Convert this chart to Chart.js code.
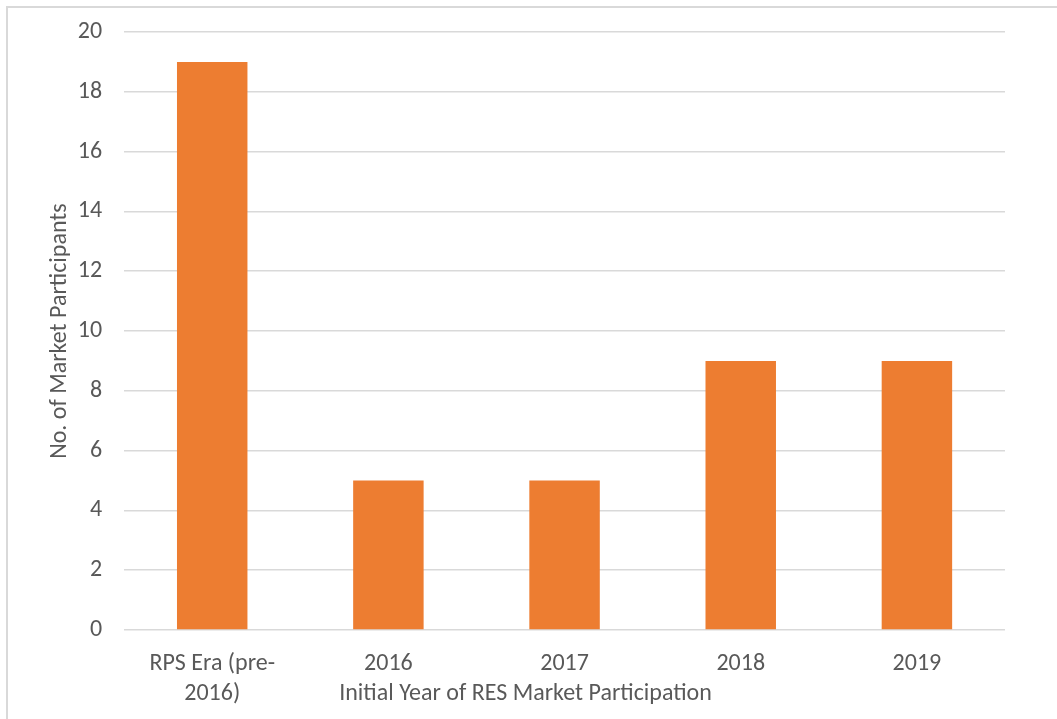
<!DOCTYPE html>
<html>
<head>
<meta charset="utf-8">
<script src="https://cdn.jsdelivr.net/npm/chart.js@4"></script>
<style>
  html, body { margin: 0; padding: 0; background: #fff; }
  #wrap { position: relative; width: 1057px; height: 719px; }
</style>
</head>
<body>
<div id="wrap"><canvas id="myChart"></canvas></div>
<script>
  const categories = [
    ['RPS Era (pre-', '2016)'],
    '2016',
    '2017',
    '2018',
    '2019'
  ];
  const participants = [19, 5, 5, 9, 9];
  const yTicks = [0, 2, 4, 6, 8, 10, 12, 14, 16, 18, 20];

  const textColor = '#595959';
  const fontFamily = 'Carlito, Lato, "Liberation Sans", sans-serif';

  // light frame on the top and left edge, like the cropped chart border
  const frame = {
    id: 'frame',
    beforeDraw(chart) {
      const ctx = chart.ctx;
      ctx.save();
      ctx.strokeStyle = '#D9D9D9';
      ctx.lineWidth = 2;
      ctx.beginPath();
      ctx.moveTo(7, chart.height);
      ctx.lineTo(7, 7);
      ctx.lineTo(chart.width, 7);
      ctx.stroke();
      ctx.restore();
    }
  };

  const data = {
    labels: categories,
    datasets: [{
      label: 'No. of Market Participants',
      backgroundColor: '#ED7D31',
      borderWidth: 0,
      data: participants,
      barPercentage: 0.4,
      categoryPercentage: 1.0
    }]
  };

  const config = {
    type: 'bar',
    data: data,
    plugins: [frame],
    options: {
      responsive: false,
      animation: false,
      layout: { padding: { top: 14, right: 52, bottom: 10, left: 46 } },
      plugins: {
        legend: { display: false },
        tooltip: { enabled: false },
        // x axis title, centred on the whole chart like the original
        title: {
          display: true,
          position: 'bottom',
          text: 'Initial Year of RES Market Participation',
          color: textColor,
          font: { family: fontFamily, size: 24, weight: 'normal' },
          padding: { top: -25.4, bottom: 0.6 }
        }
      },
      scales: {
        x: {
          grid: { display: false, drawTicks: false },
          border: { display: false },
          afterFit: (scale) => { scale.height = 75; },
          ticks: {
            color: textColor,
            font: { family: fontFamily, size: 24, lineHeight: 1.25 },
            padding: 19,
            maxRotation: 0
          }
        },
        y: {
          min: 0,
          max: 20,
          afterBuildTicks: (axis) => { axis.ticks = yTicks.map(v => ({ value: v })); },
          grid: { color: '#D9D9D9', lineWidth: 1.5, drawTicks: false },
          border: { display: false },
          ticks: {
            color: textColor,
            font: { family: fontFamily, size: 24, lineHeight: 0.84 },
            padding: 22
          },
          title: {
            display: true,
            text: 'No. of Market Participants',
            color: textColor,
            font: { family: fontFamily, size: 24 },
            padding: { top: 0, bottom: -19 }
          }
        }
      }
    }
  };

  const canvas = document.getElementById('myChart');
  canvas.width = 1057;
  canvas.height = 719;
  const myChart = new Chart(canvas, config);
</script>
</body>
</html>
